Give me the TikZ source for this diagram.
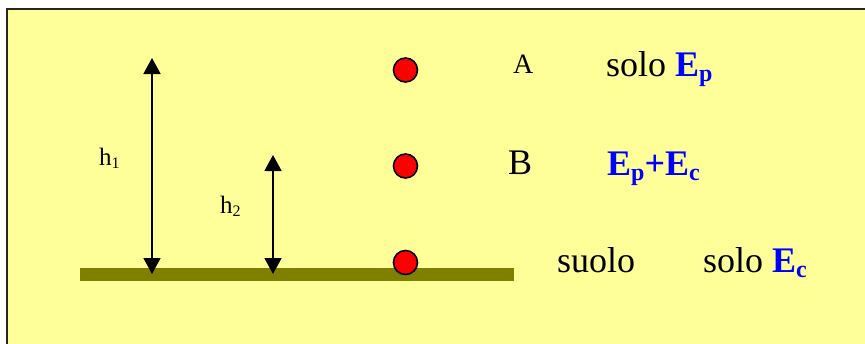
\documentclass[tikz,border=0pt]{standalone}
\usepackage{fontspec}
\setmainfont{Liberation Serif}
\usetikzlibrary{arrows.meta}
\definecolor{bgyellow}{HTML}{FFFF99}
\definecolor{ground}{HTML}{808000}
\definecolor{ballred}{HTML}{FF0000}
\definecolor{eblue}{HTML}{0000FF}
\newcommand{\bigtxt}{\fontsize{36}{40}\selectfont}
\newcommand{\subtxt}{\fontsize{24}{26}\selectfont}
\newcommand{\Esub}[1]{{\color{eblue}\bfseries E\raisebox{-5pt}{\subtxt #1}}}
\begin{document}
\begin{tikzpicture}[x=1pt,y=-1pt,
  ball/.style={circle,draw=black,line width=1.6pt,fill=ballred,minimum size=24pt,inner sep=0pt},
  harrow/.style={line width=1.8pt,{Triangle[width=17pt,length=16pt]}-{Triangle[width=17pt,length=16pt]}},
  lbl/.style={anchor=base west,inner sep=0pt,text=black},
  hlbl/.style={anchor=base west,inner sep=0pt,font=\fontsize{25}{28}\selectfont}]
\useasboundingbox (0,0) rectangle (865,343);
\clip (0,0) rectangle (865,343);
\fill[white] (0,0) rectangle (865,343);
\draw[fill=bgyellow,draw=black!85,line width=2.2pt] (7,9) rectangle (880,360);
% ground
\fill[ground] (80,268) rectangle (514,281);
% arrows
\coordinate (h1top) at (152,58);
\coordinate (h1bot) at (152,274);
\coordinate (h2top) at (273,155);
\coordinate (h2bot) at (273,274);
\draw[harrow] (h1top) -- (h1bot);
\draw[harrow] (h2top) -- (h2bot);
\node[hlbl] (h1) at (99,165) {h\raisebox{-3pt}{\fontsize{16}{18}\selectfont 1}};
\node[hlbl] (h2) at (220,213) {h\raisebox{-3pt}{\fontsize{16}{18}\selectfont 2}};
% balls
\node[ball] (ballA) at (405.5,70) {};
\node[ball] (ballB) at (405.5,166) {};
\node[ball] (ballS) at (405.5,262.5) {};
% labels
\node[lbl,font=\fontsize{28}{32}\selectfont] (A) at (513,73) {A};
\node[lbl,font=\bigtxt] (B) at (508,174) {B};
\node[lbl,font=\bigtxt] (suolo) at (557,272) {suolo};
\node[lbl,font=\bigtxt] (eA) at (606,76) {solo \Esub{p}};
\node[lbl,font=\bigtxt] (eB) at (607,175) {\Esub{p}{\color{eblue}\bfseries +}\Esub{c}};
\node[lbl,font=\bigtxt] (eS) at (703,272) {solo \Esub{c}};
\end{tikzpicture}
\end{document}
